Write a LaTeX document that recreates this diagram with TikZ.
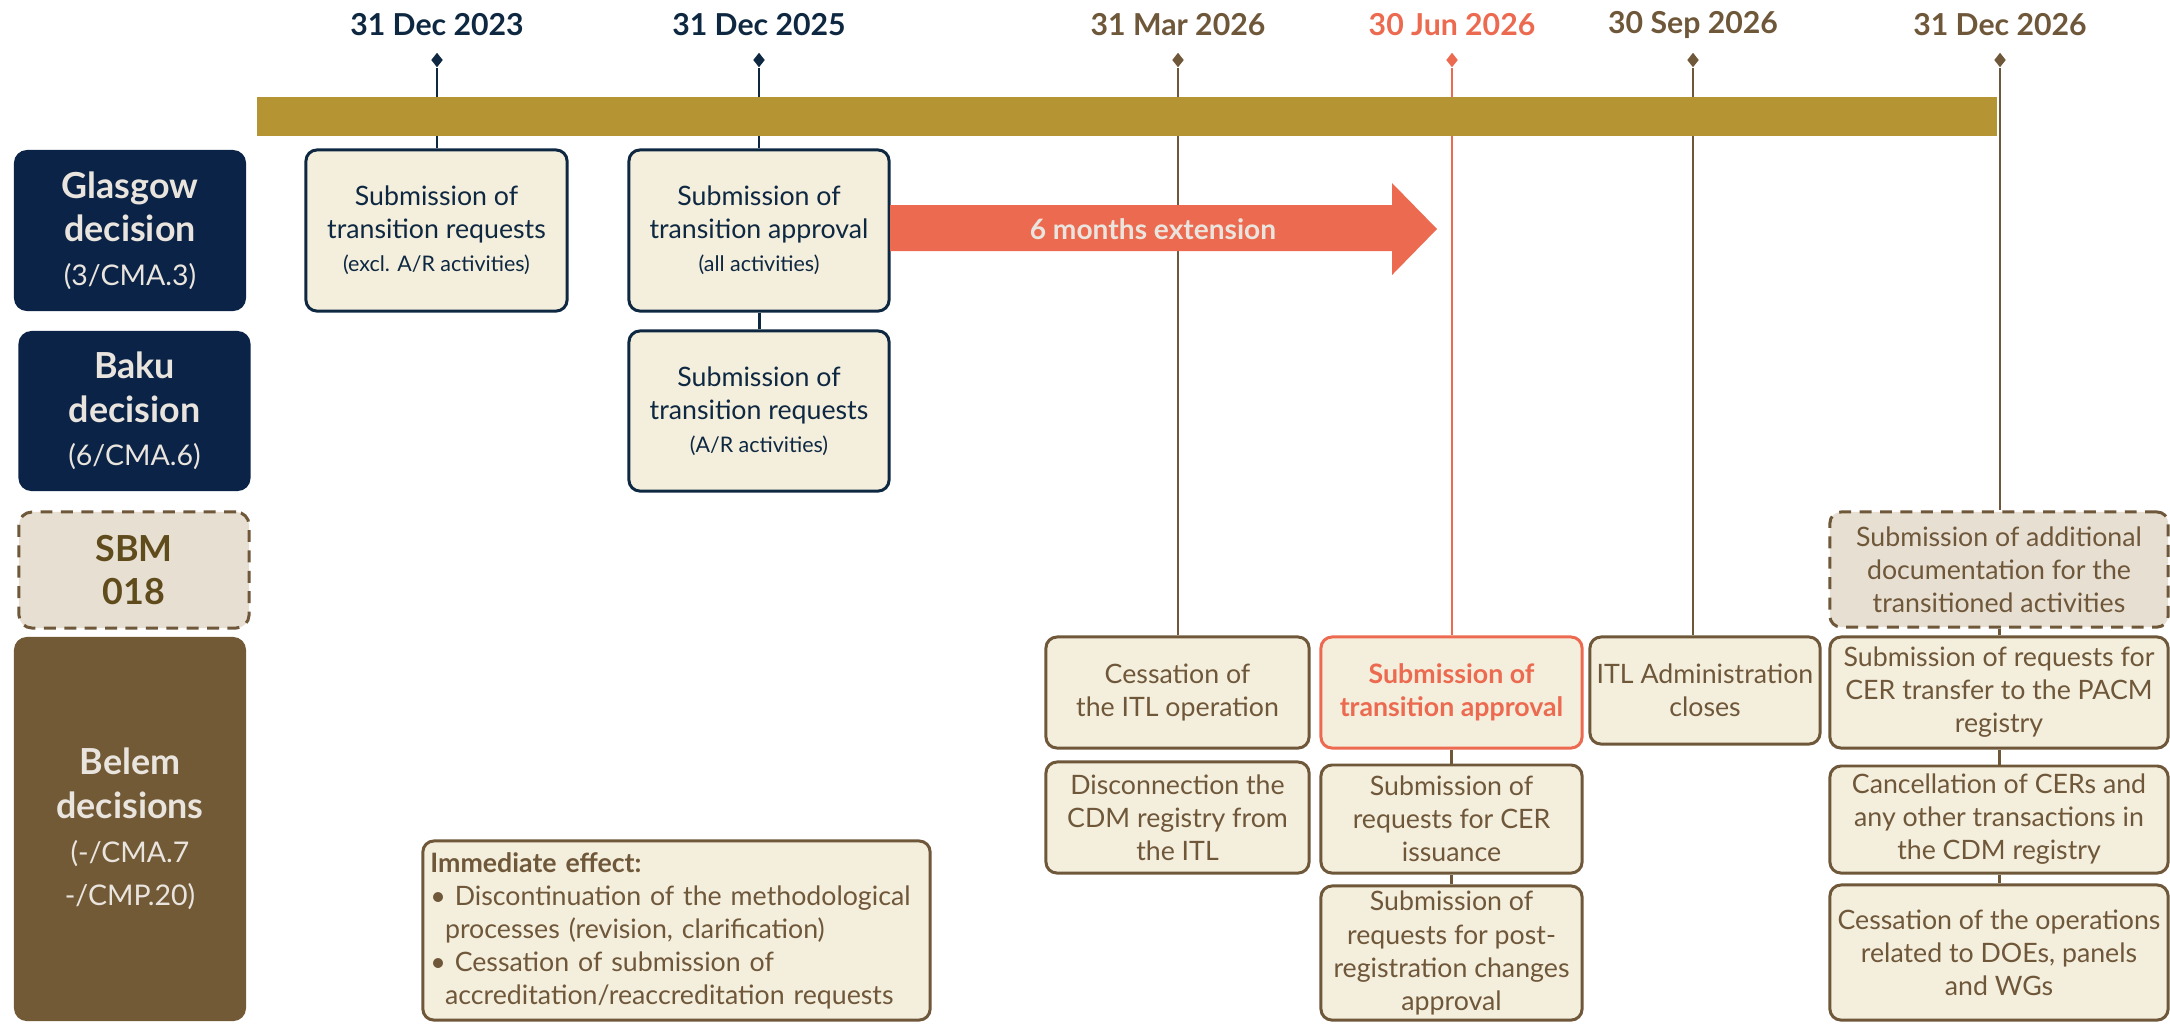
\documentclass[tikz,border=0pt]{standalone}
\usepackage{fontspec}
\setmainfont{Lato}
\usetikzlibrary{shapes.geometric}
\definecolor{navy}{HTML}{0E2841}
\definecolor{navyfill}{HTML}{0B2346}
\definecolor{gold}{HTML}{B59433}
\definecolor{brown}{HTML}{6F573A}
\definecolor{brownfill}{HTML}{735A37}
\definecolor{coral}{HTML}{EC6A4F}
\definecolor{cream}{HTML}{F4EEDD}
\definecolor{sbmfill}{HTML}{E7DFD2}
\definecolor{olive}{HTML}{5F4B1B}
\definecolor{labeltext}{HTML}{E9E5DE}
\begin{document}
\begin{tikzpicture}[x=0.01cm, y=-0.01cm]
	\tikzstyle{Tip} = [diamond, inner sep=0pt, minimum width=0.12cm, minimum height=0.15cm]
	\tikzstyle{Date} = [font=\fontsize{8.6}{10}\selectfont\bfseries]
	\tikzstyle{Label} = [rectangle, rounded corners=0.13cm, align=center, inner sep=0pt, text=labeltext, minimum width=2.32cm, font=\fontsize{10.2}{12.4}\selectfont\bfseries]
	\tikzstyle{Box} = [rectangle, rounded corners=0.11cm, draw, line width=0.85pt, fill=cream, align=center, inner sep=0pt, minimum width=2.61cm, minimum height=1.11cm, font=\fontsize{7.6}{9.4}\selectfont]
	\tikzstyle{Dash} = [dash pattern=on 3.4pt off 2.4pt]
	\useasboundingbox (0,0) rectangle (2170,1023);
	% dates
	\node (d1) at (437,25) [Date, text=navy] {31 Dec 2023};
	\node (d2) at (759,25) [Date, text=navy] {31 Dec 2025};
	\node (d3) at (1178,25) [Date, text=brown] {31 Mar 2026};
	\node (d4) at (1452,25) [Date, text=coral] {30 Jun 2026};
	\node (d5) at (1693,25) [Date, text=brown] {30 Sep 2026};
	\node (d6) at (2000,25) [Date, text=brown] {31 Dec 2026};
	\node (t1) at (437,60) [Tip, fill=navy] {};
	\node (t2) at (759,60) [Tip, fill=navy] {};
	\node (t3) at (1178,60) [Tip, fill=brown] {};
	\node (t4) at (1452,60) [Tip, fill=coral] {};
	\node (t5) at (1693,60) [Tip, fill=brown] {};
	\node (t6) at (2000,60) [Tip, fill=brown] {};
	% row labels
	\node (L1) at (130,230.5) [Label, fill=navyfill, minimum height=1.61cm] {Glasgow\\ decision\\ {\fontsize{8.1}{11}\selectfont\mdseries (3/CMA.3)}};
	\node (L2) at (134.5,411) [Label, fill=navyfill, minimum height=1.6cm] {Baku\\ decision\\ {\fontsize{8.1}{11}\selectfont\mdseries (6/CMA.6)}};
	\node (L3) at (134,570) [Label, fill=sbmfill, draw=brown, line width=0.85pt, Dash, text=olive, minimum width=2.3cm, minimum height=1.16cm] {SBM\\ 018};
	\node (L4) at (130,829) [Label, fill=brownfill, minimum height=3.84cm] {Belem\\ decisions\\ {\fontsize{8.1}{11.3}\selectfont\mdseries (-/CMA.7}\\ {\fontsize{8.1}{11.3}\selectfont\mdseries -/CMP.20)}};
	% Glasgow and Baku
	\node (g1) at (436.5,230.5) [Box, draw=navy, text=navy, minimum height=1.61cm] {Submission of\\ transition requests\\ {\fontsize{6.1}{8.6}\selectfont (excl. A/R activities)}};
	\node (g2) at (759,230.5) [Box, draw=navy, text=navy, minimum width=2.6cm, minimum height=1.61cm] {Submission of\\ transition approval\\ {\fontsize{6.1}{8.6}\selectfont (all activities)}};
	\node (k1) at (759,411) [Box, draw=navy, text=navy, minimum width=2.6cm, minimum height=1.6cm] {Submission of\\ transition requests\\ {\fontsize{6.1}{8.6}\selectfont (A/R activities)}};
	% Belem
	\node (m1) at (1177.5,692.5) [Box, draw=brown, text=brown, minimum width=2.63cm] {Cessation of\\ the ITL operation};
	\node (m2) at (1177.5,817.5) [Box, draw=brown, text=brown, minimum width=2.63cm] {Disconnection the\\ CDM registry from\\ the ITL};
	\node (j1) at (1451.5,692.5) [Box, draw=coral, text=coral, font=\fontsize{7.6}{9.4}\selectfont\bfseries] {Submission of\\ transition approval};
	\node (j2) at (1451.5,819) [Box, draw=brown, text=brown, minimum height=1.08cm] {Submission of\\ requests for CER\\ issuance};
	\node (j3) at (1451.5,953) [Box, draw=brown, text=brown, minimum height=1.34cm] {Submission of\\ requests for post-\\ registration changes\\ approval};
	\node (s1) at (1705,690.5) [Box, draw=brown, text=brown, minimum width=2.3cm, minimum height=1.07cm] {ITL Administration\\ closes};
	\node (e0) at (1999,569.5) [Box, draw=brown, Dash, fill=sbmfill, text=brown, minimum width=3.38cm, minimum height=1.15cm] {Submission of additional\\ documentation for the\\ transitioned activities};
	\node (e1) at (1999,692.5) [Box, draw=brown, text=brown, minimum width=3.38cm] {Submission of requests for\\ CER transfer to the PACM\\ registry};
	\node (e2) at (1999,819.5) [Box, draw=brown, text=brown, minimum width=3.38cm, minimum height=1.07cm] {Cancellation of CERs and\\ any other transactions in\\ the CDM registry};
	\node (e3) at (1999,952.5) [Box, draw=brown, text=brown, minimum width=3.38cm, minimum height=1.35cm] {Cessation of the operations\\ related to DOEs, panels\\ and WGs};
	\node (im) at (676.5,930.5) [Box, draw=brown, text=brown, align=left, text width=4.92cm, inner xsep=0.075cm, minimum height=1.79cm] {\textbf{Immediate effect:}\\ \textbullet\ Discontinuation of the methodological\\ \hspace*{0.55em}processes (revision, clarification)\\ \textbullet\ Cessation of submission of\\ \hspace*{0.55em}accreditation/reaccreditation requests};
	% connectors
	\draw [navy, line width=0.7pt] (t1) -- (t1 |- g1.north);
	\draw [navy, line width=0.7pt] (t2) -- (t2 |- g2.north);
	\draw [navy, line width=0.85pt] (g2.south) -- (k1.north);
	\draw [brown, line width=0.7pt] (t3) -- (t3 |- m1.north);
	\draw [coral, line width=0.7pt] (t4) -- (t4 |- j1.north);
	\draw [brown, line width=0.85pt] (j1.south) -- (j2.north);
	\draw [brown, line width=0.85pt] (j2.south) -- (j3.north);
	\draw [brown, line width=0.7pt] (t5) -- (t5 |- s1.north);
	\draw [brown, line width=0.7pt] (t6) -- (t6 |- e0.north);
	\draw [brown, line width=0.85pt] (e0.south) -- (e1.north);
	\draw [brown, line width=0.85pt] (e1.south) -- (e2.north);
	\draw [brown, line width=0.85pt] (e2.south) -- (e3.north);
	% timeline bar and extension arrow
	\fill [gold] (257,97) rectangle (1997,136);
	\fill [coral] (890,205) -- (1392,205) -- (1392,183) -- (1437,229) -- (1392,275) -- (1392,251) -- (890,251) -- cycle;
	\node (ext) at (1153,229) [text=labeltext, font=\fontsize{8}{9}\selectfont\bfseries] {6 months extension};
\end{tikzpicture}
\end{document}
